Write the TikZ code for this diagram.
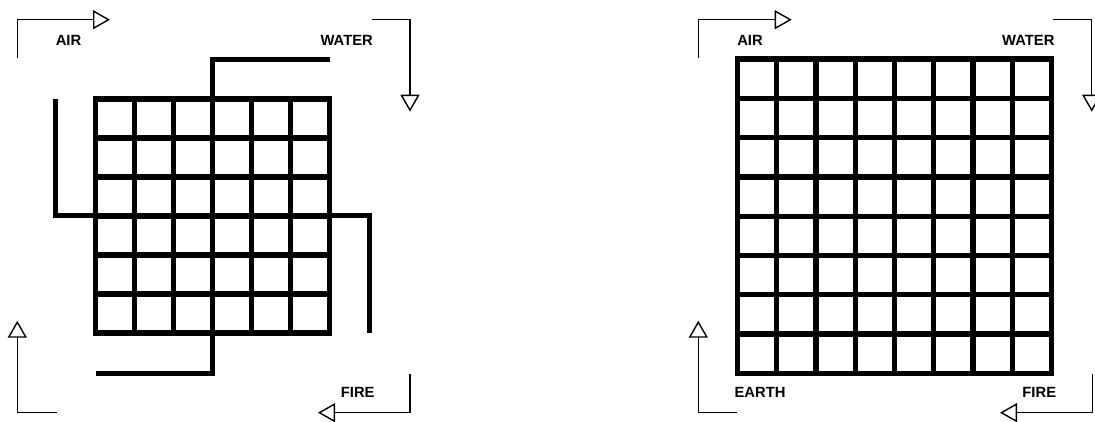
\documentclass[tikz,border=0pt]{standalone}
\usepackage{fontspec}
\setmainfont{Liberation Sans}
\usepackage{tikz}
\usetikzlibrary{calc}
\usetikzlibrary{arrows.meta}

\begin{document}
\begin{tikzpicture}[x=1pt,y=-1pt,
    gridline/.style={line width=5.3pt,line cap=rect},
    arm/.style={line width=5pt,line join=miter},
    flow/.style={line width=1.4pt,-{Triangle[open,length=17pt,width=19pt,fill=white]}},
    word/.style={font=\bfseries\fontsize{14.8}{16}\selectfont,inner sep=0pt}]
            \useasboundingbox (0,0) rectangle (1095,422);

            \coordinate (g0) at (95.7,99);
            \coordinate (g1) at (329.7,333);
            \coordinate (h0) at (737.3,59);
            \coordinate (h1) at (1051.7,373.4);

            \draw[gridline] (g0) rectangle (g1);
            \foreach \i in {1,...,5}{
                \draw[gridline] ($(g0)+(39*\i,0)$) -- ($(g0)+(39*\i,234)$);
                \draw[gridline] ($(g0)+(0,39*\i)$) -- ($(g0)+(234,39*\i)$);
            }
            \draw[gridline] (h0) rectangle (h1);
            \foreach \i in {1,...,7}{
                \draw[gridline] ($(h0)+(39.3*\i,0)$) -- ($(h0)+(39.3*\i,314.4)$);
                \draw[gridline] ($(h0)+(0,39.3*\i)$) -- ($(h0)+(314.4,39.3*\i)$);
            }

            \coordinate (armN) at (212.7,99);
            \coordinate (armW) at (95.7,216);
            \coordinate (armE) at (329.7,216);
            \coordinate (armS) at (212.7,333);
            \draw[arm] (armN) -- (212.7,59.3) -- (329.7,59.3);
            \draw[arm] (armW) -- (55.7,216) -- (55.7,99);
            \draw[arm] (armE) -- (369,216) -- (369,333);
            \draw[arm] (armS) -- (212.7,373) -- (95.7,373);

            \coordinate (airA) at (17.3,58.3);    \coordinate (airB) at (110,19.7);
            \coordinate (watA) at (371.7,19.7);   \coordinate (watB) at (410,111.7);
            \coordinate (fireA) at (410,374);     \coordinate (fireB) at (318,412.7);
            \coordinate (earA) at (56.7,412.7);   \coordinate (earB) at (17.3,320.7);
            \draw[flow] (airA) |- (airB);
            \draw[flow] (watA) -| (watB);
            \draw[flow] (fireA) |- (fireB);
            \draw[flow] (earA) -| (earB);

            \coordinate (airC) at (698.3,58.3);   \coordinate (airD) at (791.7,19.7);
            \coordinate (watC) at (1053.3,19.7);  \coordinate (watD) at (1091.7,111.7);
            \coordinate (fireC) at (1092.3,374);  \coordinate (fireD) at (1000,412.7);
            \coordinate (earC) at (737.3,412.7);  \coordinate (earD) at (698.3,320.7);
            \draw[flow] (airC) |- (airD);
            \draw[flow] (watC) -| (watD);
            \draw[flow] (fireC) |- (fireD);
            \draw[flow] (earC) -| (earD);

            \node[word] (air1) at (68.5,40) {AIR};
            \node[word] (water1) at (346.7,40) {WATER};
            \node[word] (fire1) at (357.7,392.3) {FIRE};
            \node[word] (air2) at (750,40) {AIR};
            \node[word] (water2) at (1028.3,40) {WATER};
            \node[word] (fire2) at (1039.3,392.3) {FIRE};
            \node[word] (earth2) at (760,392.3) {EARTH};
        \end{tikzpicture}
\end{document}
